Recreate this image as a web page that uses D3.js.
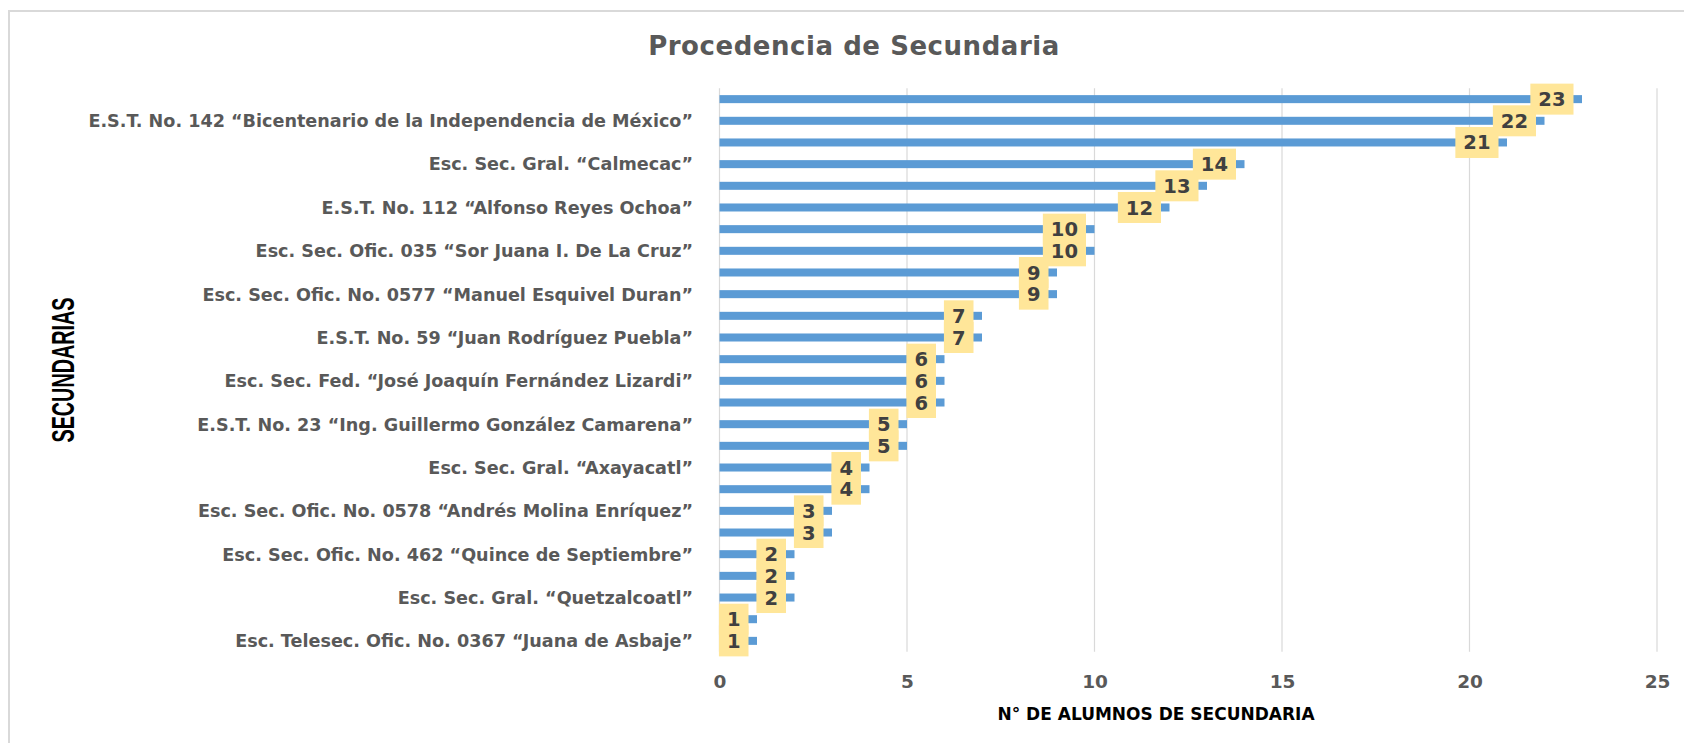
<!DOCTYPE html>
<html>
<head>
<meta charset="utf-8">
<script src="https://cdn.jsdelivr.net/npm/d3@7/dist/d3.min.js"></script>
<style>
  html, body { margin: 0; padding: 0; background: #fff; }
  svg { display: block; }
</style>
</head>
<body>
<svg id="chart" width="1684" height="743"></svg>
<script>
// ---- data ----
const chartTitle = "Procedencia de Secundaria";
const xAxisTitle = "N° DE ALUMNOS DE SECUNDARIA";
const yAxisTitle = "SECUNDARIAS";
// category labels, top to bottom ("" = label not shown in the original)
const categories = [
  "",
  "E.S.T. No. 142 “Bicentenario de la Independencia de México”",
  "",
  "Esc. Sec. Gral. “Calmecac”",
  "",
  "E.S.T. No. 112 “Alfonso Reyes Ochoa”",
  "",
  "Esc. Sec. Ofic. 035 “Sor Juana I. De La Cruz”",
  "",
  "Esc. Sec. Ofic. No. 0577 “Manuel Esquivel Duran”",
  "",
  "E.S.T. No. 59 “Juan Rodríguez Puebla”",
  "",
  "Esc. Sec. Fed. “José Joaquín Fernández Lizardi”",
  "",
  "E.S.T. No. 23 “Ing. Guillermo González Camarena”",
  "",
  "Esc. Sec. Gral. “Axayacatl”",
  "",
  "Esc. Sec. Ofic. No. 0578 “Andrés Molina Enríquez”",
  "",
  "Esc. Sec. Ofic. No. 462 “Quince de Septiembre”",
  "",
  "Esc. Sec. Gral. “Quetzalcoatl”",
  "",
  "Esc. Telesec. Ofic. No. 0367 “Juana de Asbaje”"
];
const values = [23, 22, 21, 14, 13, 12, 10, 10, 9, 9, 7, 7, 6, 6, 6, 5, 5, 4, 4, 3, 3, 2, 2, 2, 1, 1];
const xTicks = [0, 5, 10, 15, 20, 25];

// ---- layout ----
const svg = d3.select("#chart");
const plot = { left: 719.5, right: 1657, top: 88.3, bottom: 651.7 };

const x = d3.scaleLinear().domain([0, 25]).range([plot.left, plot.right]);
const y = d3.scaleBand()
  .domain(d3.range(values.length))
  .range([plot.top, plot.bottom])
  .paddingInner(0.63)
  .paddingOuter(0.315);

const FONT = "'DejaVu Sans', Verdana, sans-serif";

// chart border (top and left visible)
svg.append("line").attr("x1", 9).attr("x2", 1684).attr("y1", 11).attr("y2", 11)
  .attr("stroke", "#d9d9d9").attr("stroke-width", 2);
svg.append("line").attr("x1", 9).attr("x2", 9).attr("y1", 10).attr("y2", 743)
  .attr("stroke", "#d9d9d9").attr("stroke-width", 2);

// gridlines
svg.append("g").selectAll("line").data(xTicks).join("line")
  .attr("x1", d => x(d)).attr("x2", d => x(d))
  .attr("y1", plot.top).attr("y2", plot.bottom)
  .attr("stroke", "#d9d9d9").attr("stroke-width", 1.2);

// x axis tick labels
const xAxis = d3.axisBottom(x).tickValues(xTicks).tickSize(0).tickPadding(0);
const xg = svg.append("g").attr("transform", `translate(0,${plot.bottom})`).call(xAxis);
xg.select(".domain").remove();
xg.selectAll("text")
  .attr("dy", null).attr("y", 36)
  .attr("font-family", FONT).attr("font-weight", "bold")
  .attr("font-size", "18.5px").attr("fill", "#595959");

// y axis category labels
const yAxis = d3.axisLeft(y).tickFormat(i => categories[i]).tickSize(0).tickPadding(26.5);
const yg = svg.append("g").attr("transform", `translate(${plot.left},0)`).call(yAxis);
yg.select(".domain").remove();
yg.selectAll("text")
  .attr("dy", "0.36em")
  .attr("font-family", FONT).attr("font-weight", "bold")
  .attr("font-size", "17.6px").attr("fill", "#595959");

// bars
svg.append("g").selectAll("rect").data(values).join("rect")
  .attr("x", x(0))
  .attr("y", (d, i) => y(i))
  .attr("width", d => x(d) - x(0))
  .attr("height", y.bandwidth())
  .attr("fill", "#5b9bd5");

// data labels
const labG = svg.append("g");
const labTexts = labG.selectAll("text").data(values).join("text")
  .attr("font-family", FONT).attr("font-weight", "bold")
  .attr("font-size", "19.5px").attr("fill", "#404040")
  .attr("text-anchor", "middle")
  .attr("dy", "0.36em")
  .text(d => d);
const boxes = [];
labTexts.each(function (d, i) {
  const w = this.getComputedTextLength() + 16;
  const right = x(d) - 8.5;
  const cx = right - w / 2;
  const cy = y(i) + y.bandwidth() / 2;
  d3.select(this).attr("x", cx).attr("y", cy);
  boxes.push({ x: right - w, y: cy - 15.5, w: w, h: 31 });
});
labG.insert("g", "text").selectAll("rect").data(boxes).join("rect")
  .attr("x", b => b.x).attr("y", b => b.y)
  .attr("width", b => b.w).attr("height", b => b.h)
  .attr("fill", "#ffe699");

// title
svg.append("text")
  .attr("x", 854).attr("y", 55)
  .attr("text-anchor", "middle")
  .attr("font-family", FONT).attr("font-weight", "bold")
  .attr("font-size", "26px").attr("letter-spacing", "0.55px")
  .attr("fill", "#595959")
  .text(chartTitle);

// x axis title
svg.append("text")
  .attr("x", 1156).attr("y", 719.5)
  .attr("text-anchor", "middle")
  .attr("font-family", FONT).attr("font-weight", "bold")
  .attr("font-size", "17px")
  .attr("fill", "#000")
  .text(xAxisTitle);

// y axis title (tall, condensed look)
svg.append("text")
  .attr("transform", "translate(74,370) rotate(-90) scale(1,1.55)")
  .attr("text-anchor", "middle")
  .attr("font-family", "'Liberation Sans', Arial, sans-serif").attr("font-weight", "bold")
  .attr("font-size", "19.8px")
  .attr("fill", "#000")
  .text(yAxisTitle);
</script>
</body>
</html>
